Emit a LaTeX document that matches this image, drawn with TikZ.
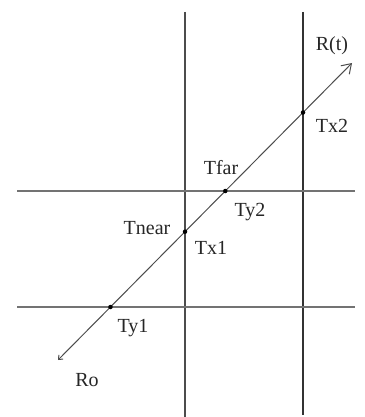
\documentclass[tikz,border=0pt]{standalone}
\usepackage{fontspec}
\setmainfont{Liberation Serif}
\usetikzlibrary{arrows.meta,intersections}

\begin{document}
\begin{tikzpicture}[
    x=1pt, y=-1pt,
    font=\fontsize{20}{23}\selectfont,
    slab/.style={draw=black!55, line width=1.9pt},
    slabx/.style={draw=black!70, line width=1.4pt},
    slabwide/.style={draw=black!80, line width=2.8pt},
    ray/.style={draw=black!70, line width=1pt,
        {Straight Barb[length=3.5pt,width=6pt]}-{Straight Barb[length=9pt,width=12pt]}},
    hit/.style={circle, fill=black, inner sep=0pt, minimum size=4.5pt},
    lbl/.style={inner sep=0pt, text=black!85}
]
\useasboundingbox (0,0) rectangle (364,417);

% slab planes
\draw[slabx, name path=x1] (185,12) coordinate (x1top) -- (185,417) coordinate (x1bot);
\draw[slabwide, name path=x2] (303,12) coordinate (x2top) -- (303,415) coordinate (x2bot);
\draw[slab, name path=y2] (17,191) coordinate (y2l) -- (355,191) coordinate (y2r);
\draw[slab, name path=y1] (17,307) coordinate (y1l) -- (355,307) coordinate (y1r);

% the ray
\coordinate (ro) at (58,360);
\coordinate (rt) at (352,63);
\path[name path=raypath] (ro) -- (rt);
\draw[ray] (ro) -- (rt);

% hits
\path[name intersections={of=raypath and x1, by=tx1}];
\path[name intersections={of=raypath and x2, by=tx2}];
\path[name intersections={of=raypath and y1, by=ty1}];
\path[name intersections={of=raypath and y2, by=ty2}];
\foreach \p in {tx1,tx2,ty1,ty2}
    \node[hit] at (\p) {};

% labels
\node[lbl] (lrt) at (332,46) {R(t)};
\node[lbl] (ltx2) at (332,126) {Tx2};
\node[lbl] (ltfar) at (221,168) {Tfar};
\node[lbl] (lty2) at (250,212) {Ty2};
\node[lbl] (ltnear) at (147,228) {Tnear};
\node[lbl] (ltx1) at (211,248) {Tx1};
\node[lbl] (lty1) at (133,328) {Ty1};
\node[lbl] (lro) at (87,380) {Ro};
\end{tikzpicture}
\end{document}
